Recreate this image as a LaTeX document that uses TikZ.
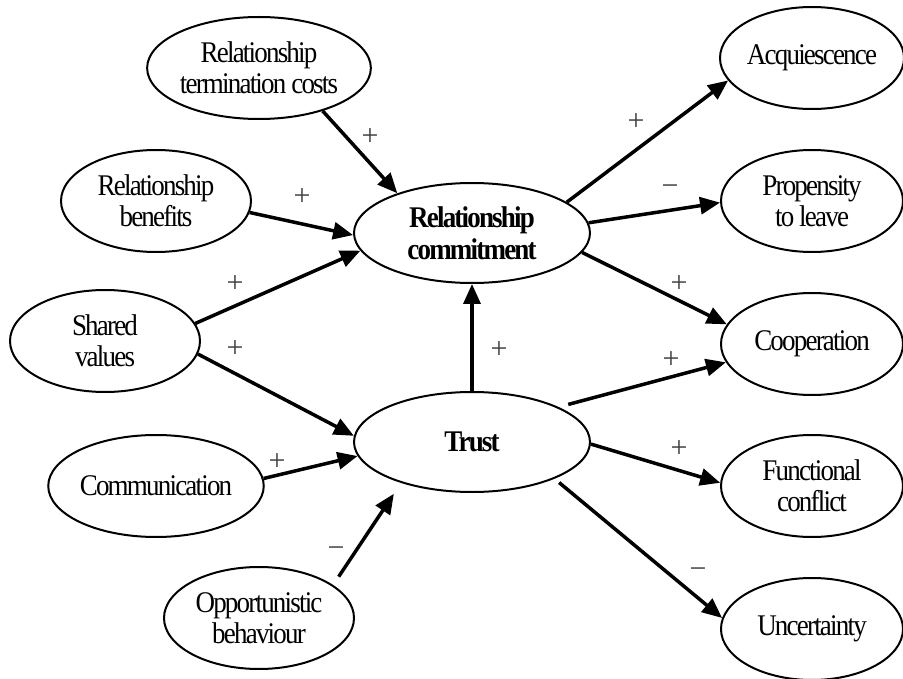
\documentclass[tikz,border=0pt]{standalone}
\usepackage{fontspec}
\setmainfont{Liberation Serif}[FakeStretch=0.9, LetterSpace=-6]
\newfontfamily\signfont{Liberation Serif}
\usetikzlibrary{arrows.meta,shapes.geometric}

\tikzset{
  concept/.style={ellipse, draw, line width=2pt, inner sep=0pt,
    minimum width=190pt, minimum height=102pt, align=center,
    font=\fontsize{30pt}{31pt}\selectfont},
  core/.style={concept, minimum width=236pt, minimum height=100pt,
    font=\fontsize{30pt}{32pt}\selectfont\bfseries},
  outcome/.style={concept, minimum width=182pt},
  link/.style={line width=3.5pt, -{Triangle[length=20pt,width=17pt]}},
  sign/.style={text=black!75, inner sep=0pt,
    font=\signfont\fontsize{30pt}{30pt}\selectfont}
}

\begin{document}
\begin{tikzpicture}[x=1pt, y=-1pt]
  \useasboundingbox (0,0) rectangle (903,679);

  % antecedents
  \node[concept] (cost) at (259,68)  {Relationship\\termination costs};
  \node[concept] (ben)  at (156,201) {Relationship\\benefits};
  \node[concept] (val)  at (105,341) {Shared\\values};
  \node[concept] (com)  at (156,486) {Communication};
  \node[concept] (opp)  at (259,618) {Opportunistic\\behaviour};

  % mediating variables
  \node[core] (rc)    at (472,233) {Relationship\\commitment};
  \node[core] (trust) at (472,442) {Trust};

  % outcomes
  \node[outcome] (acq)  at (812,58)  {Acquiescence};
  \node[outcome] (prop) at (812,201) {Propensity\\to leave};
  \node[outcome] (coop) at (812,344) {Cooperation};
  \node[outcome] (func) at (812,486) {Functional\\conflict};
  \node[outcome] (unc)  at (812,629) {Uncertainty};

  % paths into commitment and trust
  \draw[link] (cost.-34) -- (rc.152);
  \draw[link] (ben.-7)   -- (rc.181);
  \draw[link] (val.11)   -- (rc.189);
  \draw[link] (val.-8)   -- (trust.177);
  \draw[link] (com.4)    -- (trust.187);
  \draw[link, shorten <=10pt, shorten >=13pt] (opp.24) -- (trust.210);
  \draw[link] (trust.north) -- (rc.south);

  % paths out of commitment
  \draw[link] (rc.18)  -- (acq.195);
  \draw[link] (rc.5)   -- (prop.181);
  \draw[link] (rc.-10) -- (coop.167);

  % paths out of trust
  \draw[link, shorten <=10pt] (trust.22) -- (coop.192);
  \draw[link] (trust.-1.5) -- (func.178);
  \draw[link, shorten <=6pt] (trust.-24) -- (unc.173);

  % signs of the paths
  \node[sign] (s1)  at (370,137) {+};
  \node[sign] (s2)  at (302,197) {+};
  \node[sign] (s3)  at (235,284) {+};
  \node[sign] (s4)  at (235,349) {+};
  \node[sign] (s5)  at (277,462) {+};
  \node[sign] (s6)  at (336,552) {−};
  \node[sign] (s7)  at (499,350) {+};
  \node[sign] (s8)  at (636,122) {+};
  \node[sign] (s9)  at (670,190) {−};
  \node[sign] (s10) at (679,284) {+};
  \node[sign] (s11) at (671,360) {+};
  \node[sign] (s12) at (679,449) {+};
  \node[sign] (s13) at (698,573) {−};
\end{tikzpicture}
\end{document}
